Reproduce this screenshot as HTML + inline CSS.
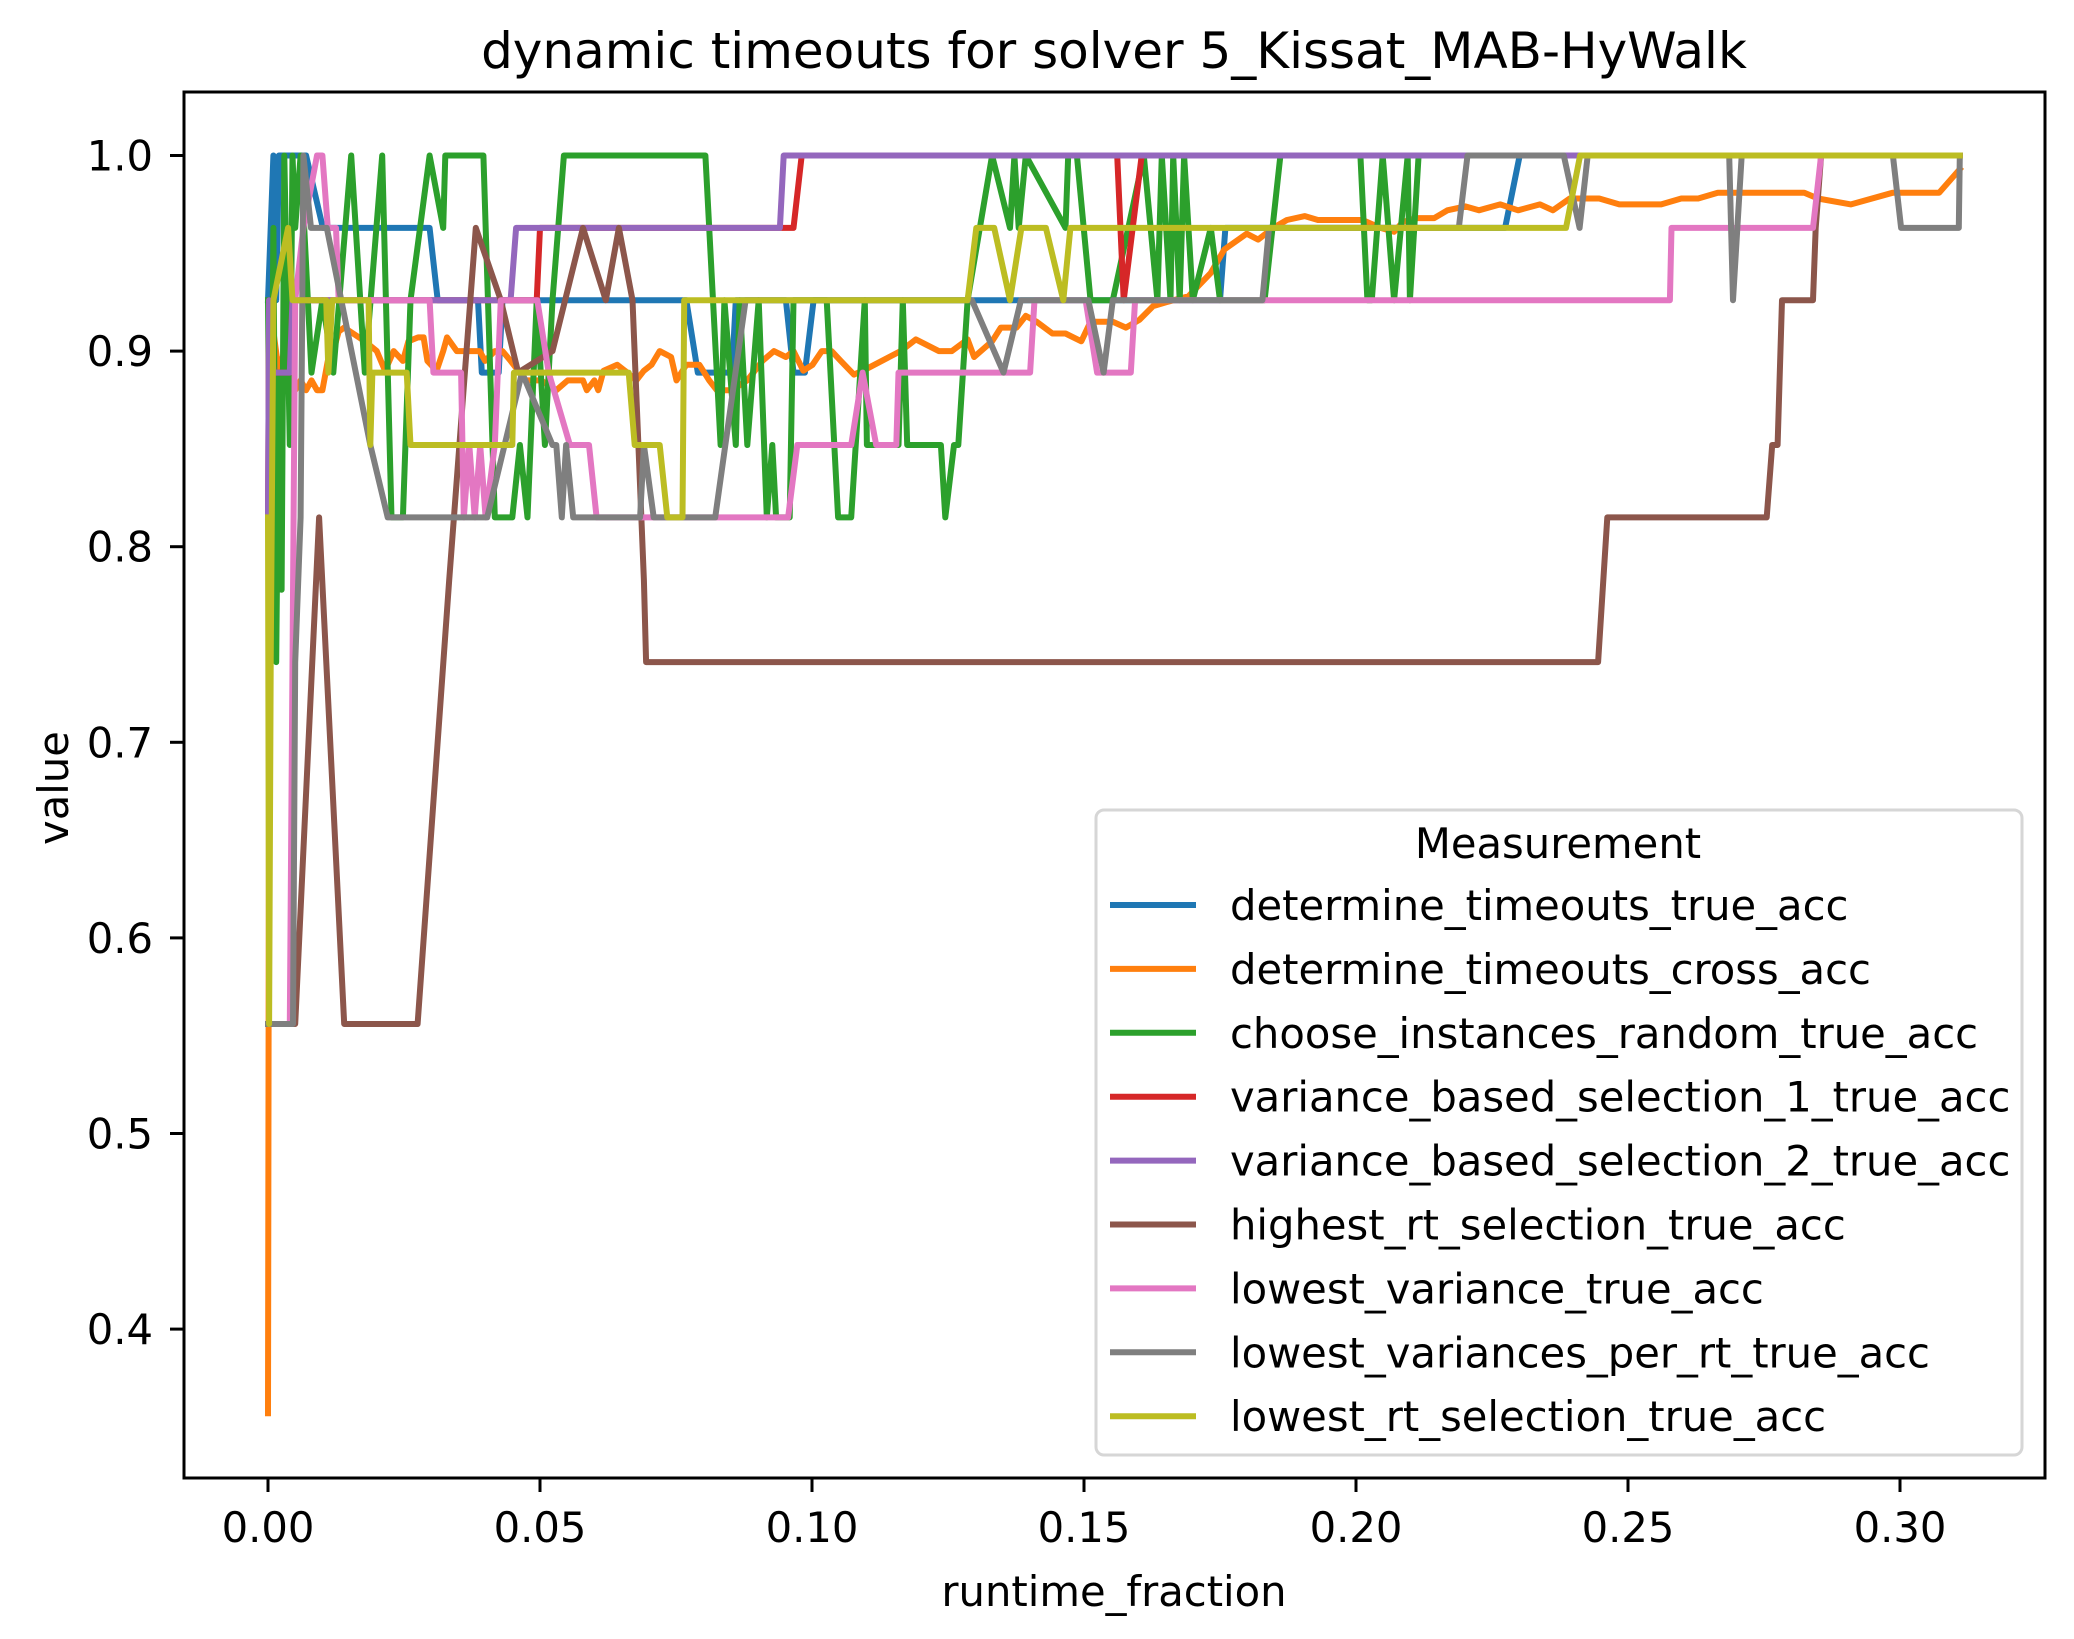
<!DOCTYPE html>
<html><head><meta charset="utf-8"><style>
html,body{margin:0;padding:0;background:#fff;}
svg{display:block;font-family:"DejaVu Sans","Liberation Sans",sans-serif;}
</style></head><body>
<svg id="chart" width="2074" height="1639" viewBox="0 0 2074 1639" xmlns="http://www.w3.org/2000/svg">
<rect x="0" y="0" width="2074" height="1639" fill="#fff"/>
<text x="1114" y="68" font-size="50" text-anchor="middle">dynamic timeouts for solver 5_Kissat_MAB-HyWalk</text>
<g id="plot"></g>
<g id="axes"></g>
<text x="1114" y="1606" font-size="41.7" text-anchor="middle">runtime_fraction</text>
<text transform="translate(68,788) rotate(-90)" font-size="41.7" text-anchor="middle">value</text>
<g id="legend"></g>
</svg>
<script>
const xTicks = [0, 0.05, 0.10, 0.15, 0.20, 0.25, 0.30];
const xTickLabels = ["0.00","0.05","0.10","0.15","0.20","0.25","0.30"];
const yTicks = [0.4, 0.5, 0.6, 0.7, 0.8, 0.9, 1.0];
const yTickLabels = ["0.4","0.5","0.6","0.7","0.8","0.9","1.0"];
const seriesNames = ["determine_timeouts_true_acc","determine_timeouts_cross_acc","choose_instances_random_true_acc","variance_based_selection_1_true_acc","variance_based_selection_2_true_acc","highest_rt_selection_true_acc","lowest_variance_true_acc","lowest_variances_per_rt_true_acc","lowest_rt_selection_true_acc"];
const seriesColors = ["#1f77b4","#ff7f0e","#2ca02c","#d62728","#9467bd","#8c564b","#e377c2","#7f7f7f","#bcbd22"];

const blueX = [0,0.001,0.0015,0.002,0.003,0.007,0.0101,0.0297,0.0312,0.0386,0.0393,0.0424,0.0431,0.0769,0.079,0.0853,0.086,0.0952,0.0966,0.0987,0.1003,0.175,0.176,0.2274,0.2301,0.311];
const blueY = [0.926,1.0,0.926,1.0,1.0,1.0,0.963,0.963,0.926,0.926,0.889,0.889,0.926,0.926,0.889,0.889,0.926,0.926,0.889,0.889,0.926,0.926,0.963,0.963,1.0,1.0];

const orangeX = [0,0.0003,0.001,0.002,0.003,0.004,0.005,0.006,0.007,0.008,0.009,0.010,0.011,0.012,0.0125,0.013,0.014,0.0178,0.02,0.0215,0.0231,0.0248,0.0258,0.0276,0.0286,0.0293,0.031,0.0322,0.0329,0.0347,0.0389,0.0399,0.0417,0.0431,0.0446,0.046,0.0474,0.0502,0.053,0.0551,0.0579,0.0586,0.06,0.0607,0.0617,0.0642,0.0656,0.0677,0.0691,0.0705,0.072,0.0741,0.0751,0.0769,0.0793,0.0811,0.0825,0.0853,0.0881,0.0909,0.093,0.0952,0.0966,0.0984,0.1001,0.1018,0.1036,0.1053,0.1077,0.1101,0.1142,0.1163,0.1191,0.1233,0.1257,0.1286,0.1298,0.1331,0.1347,0.1376,0.1393,0.1413,0.1442,0.1466,0.1495,0.1512,0.1553,0.1577,0.1602,0.1627,0.1651,0.1692,0.1733,0.1758,0.1799,0.182,0.1848,0.1873,0.1906,0.193,0.2012,0.2045,0.207,0.2086,0.2111,0.2144,0.2168,0.2201,0.2226,0.2265,0.2298,0.2338,0.2362,0.2393,0.2447,0.2484,0.2561,0.2598,0.2629,0.2665,0.2824,0.2849,0.291,0.2987,0.3072,0.311];
const orangeY = [0.357,0.88,0.91,0.889,0.90,0.885,0.88,0.885,0.88,0.885,0.88,0.88,0.895,0.90,0.905,0.91,0.912,0.905,0.90,0.89,0.90,0.895,0.905,0.907,0.907,0.895,0.89,0.90,0.907,0.90,0.90,0.895,0.90,0.90,0.895,0.89,0.885,0.885,0.88,0.885,0.885,0.88,0.885,0.88,0.89,0.893,0.89,0.885,0.89,0.893,0.90,0.897,0.885,0.893,0.893,0.885,0.88,0.88,0.885,0.895,0.90,0.897,0.90,0.89,0.893,0.90,0.90,0.895,0.888,0.891,0.897,0.90,0.906,0.90,0.90,0.906,0.897,0.905,0.912,0.912,0.918,0.915,0.909,0.909,0.905,0.915,0.915,0.912,0.916,0.923,0.925,0.928,0.94,0.952,0.96,0.957,0.963,0.967,0.969,0.967,0.967,0.963,0.961,0.966,0.968,0.968,0.972,0.974,0.972,0.975,0.972,0.975,0.972,0.978,0.978,0.975,0.975,0.978,0.978,0.981,0.981,0.978,0.975,0.981,0.981,0.993];

const greenX = [0,0.0005,0.001,0.0015,0.002,0.0025,0.003,0.004,0.0045,0.005,0.006,0.008,0.010,0.012,0.0153,0.0178,0.021,0.0227,0.0248,0.0262,0.0297,0.0322,0.0326,0.0368,0.0375,0.0396,0.0417,0.0449,0.0463,0.0477,0.0494,0.0509,0.0523,0.0544,0.0804,0.0818,0.0832,0.0839,0.086,0.0867,0.0881,0.0902,0.0917,0.0927,0.0934,0.0959,0.0966,0.1027,0.1048,0.1072,0.1097,0.1101,0.1159,0.1167,0.1175,0.1237,0.1245,0.1261,0.1269,0.1286,0.1331,0.1364,0.1372,0.138,0.1393,0.1466,0.1471,0.1487,0.1512,0.1545,0.1553,0.161,0.1635,0.1643,0.1659,0.1664,0.1676,0.1684,0.17,0.1733,0.175,0.1832,0.1861,0.2008,0.2021,0.2029,0.2049,0.207,0.2095,0.2099,0.2115,0.311];
const greenY = [0.926,0.778,0.963,0.741,0.889,0.778,1.0,0.852,1.0,0.963,1.0,0.889,0.926,0.889,1.0,0.889,1.0,0.815,0.815,0.926,1.0,0.963,1.0,1.0,1.0,1.0,0.815,0.815,0.852,0.815,0.926,0.852,0.926,1.0,1.0,0.926,0.852,0.926,0.852,0.926,0.852,0.926,0.815,0.852,0.815,0.815,0.926,0.926,0.815,0.815,0.926,0.852,0.852,0.926,0.852,0.852,0.815,0.852,0.852,0.926,1.0,0.963,1.0,0.963,1.0,0.963,1.0,1.0,0.926,0.926,0.926,1.0,0.926,1.0,0.926,1.0,0.926,1.0,0.926,0.963,0.926,0.926,1.0,1.0,0.926,0.926,1.0,0.926,1.0,0.926,1.0,1.0];

const redX = [0,0.0002,0.001,0.004,0.0045,0.0494,0.05,0.0966,0.0981,0.1561,0.1573,0.1606,0.311];
const redY = [0.815,0.926,0.889,0.889,0.926,0.926,0.963,0.963,1.0,1.0,0.926,1.0,1.0];

const purpleX = [0,0.0002,0.001,0.004,0.0045,0.0446,0.0456,0.0941,0.0948,0.311];
const purpleY = [0.815,0.926,0.889,0.889,0.926,0.926,0.963,0.963,1.0,1.0];

const brownX = [0,0.005,0.0094,0.014,0.0275,0.0333,0.0382,0.0428,0.046,0.0523,0.0579,0.0621,0.0645,0.067,0.0691,0.0695,0.2445,0.2462,0.2755,0.2765,0.2775,0.2783,0.284,0.2845,0.2855,0.311];
const brownY = [0.556,0.556,0.815,0.556,0.556,0.783,0.963,0.926,0.889,0.9,0.963,0.926,0.963,0.926,0.783,0.741,0.741,0.815,0.815,0.852,0.852,0.926,0.926,0.963,1.0,1.0];

const pinkX = [0.004,0.005,0.0065,0.009,0.010,0.011,0.0125,0.013,0.0297,0.0304,0.0355,0.036,0.037,0.038,0.039,0.040,0.0417,0.0428,0.0495,0.0516,0.0555,0.059,0.0604,0.0956,0.0973,0.1072,0.1093,0.1118,0.1155,0.1159,0.1401,0.1409,0.1503,0.1524,0.1586,0.1594,0.2577,0.258,0.284,0.2855,0.311];
const pinkY = [0.556,0.926,0.963,1.0,1.0,0.963,0.963,0.926,0.926,0.889,0.889,0.815,0.852,0.815,0.852,0.815,0.852,0.926,0.926,0.889,0.852,0.852,0.815,0.815,0.852,0.852,0.889,0.852,0.852,0.889,0.889,0.926,0.926,0.889,0.889,0.926,0.926,0.963,0.963,1.0,1.0];

const grayX = [0,0.0046,0.005,0.006,0.0065,0.0079,0.0108,0.0188,0.022,0.0403,0.0467,0.0523,0.053,0.054,0.0548,0.0561,0.0684,0.0691,0.0709,0.0822,0.0878,0.1294,0.1352,0.1384,0.1405,0.1508,0.1536,0.1553,0.1828,0.184,0.2189,0.2205,0.2382,0.2411,0.2426,0.2686,0.2693,0.2709,0.2987,0.3002,0.3108,0.311];
const grayY = [0.556,0.556,0.741,0.815,1.0,0.963,0.963,0.852,0.815,0.815,0.889,0.852,0.852,0.815,0.852,0.815,0.815,0.852,0.815,0.815,0.926,0.926,0.889,0.926,0.926,0.926,0.889,0.926,0.926,0.963,0.963,1.0,1.0,0.963,1.0,1.0,0.926,1.0,1.0,0.963,0.963,1.0];

const oliveX = [0,0.0002,0.0005,0.001,0.0037,0.0045,0.0107,0.0111,0.0118,0.0185,0.0188,0.0192,0.0255,0.0262,0.0449,0.0452,0.0663,0.0674,0.072,0.0734,0.0762,0.0765,0.1286,0.1302,0.1335,0.1364,0.1385,0.143,0.1462,0.1475,0.2386,0.2412,0.311];
const oliveY = [0.815,0.556,0.741,0.926,0.963,0.926,0.926,0.889,0.926,0.926,0.852,0.889,0.889,0.852,0.852,0.889,0.889,0.852,0.852,0.815,0.815,0.926,0.926,0.963,0.963,0.926,0.963,0.963,0.926,0.963,0.963,1.0,1.0];

const seriesX = [blueX, orangeX, greenX, redX, purpleX, brownX, pinkX, grayX, oliveX];
const seriesY = [blueY, orangeY, greenY, redY, purpleY, brownY, pinkY, grayY, oliveY];
const drawOrder = [0,1,2,3,4,5,6,7,8];

const NS = "http://www.w3.org/2000/svg";
const L = 184, R = 2045, T = 92, B = 1478;
function xs(v){ return 268 + v * 5440; }
function ys(v){ return 155.5 + (1 - v) * 1956; }

const plot = document.getElementById('plot');
drawOrder.forEach(function(i){
  const pts = seriesX[i].map(function(x, k){ return xs(x).toFixed(1) + ',' + ys(seriesY[i][k]).toFixed(1); }).join(' ');
  const pl = document.createElementNS(NS, 'polyline');
  pl.setAttribute('points', pts);
  pl.setAttribute('fill', 'none');
  pl.setAttribute('stroke', seriesColors[i]);
  pl.setAttribute('stroke-width', '6');
  pl.setAttribute('stroke-linejoin', 'round');
  pl.setAttribute('stroke-linecap', 'square');
  
  
  plot.appendChild(pl);
});

const axes = document.getElementById('axes');
const frame = document.createElementNS(NS, 'rect');
frame.setAttribute('x', L); frame.setAttribute('y', T);
frame.setAttribute('width', R - L); frame.setAttribute('height', B - T);
frame.setAttribute('fill', 'none'); frame.setAttribute('stroke', '#000'); frame.setAttribute('stroke-width', '3');


axes.appendChild(frame);

xTicks.forEach(function(t, k){
  const x = xs(t);
  const ln = document.createElementNS(NS, 'line');
  ln.setAttribute('x1', x); ln.setAttribute('x2', x); ln.setAttribute('y1', B); ln.setAttribute('y2', B + 14);
  ln.setAttribute('stroke', '#000'); ln.setAttribute('stroke-width', '3');
  
  
  axes.appendChild(ln);
  const tx = document.createElementNS(NS, 'text');
  tx.setAttribute('x', x); tx.setAttribute('y', 1542);
  tx.setAttribute('font-size', '41.7'); tx.setAttribute('text-anchor', 'middle');
  tx.textContent = xTickLabels[k];
  
  
  axes.appendChild(tx);
});
yTicks.forEach(function(t, k){
  const y = ys(t);
  const ln = document.createElementNS(NS, 'line');
  ln.setAttribute('x1', L - 14); ln.setAttribute('x2', L); ln.setAttribute('y1', y); ln.setAttribute('y2', y);
  ln.setAttribute('stroke', '#000'); ln.setAttribute('stroke-width', '3');
  
  
  axes.appendChild(ln);
  const tx = document.createElementNS(NS, 'text');
  tx.setAttribute('x', 153); tx.setAttribute('y', y + 15);
  tx.setAttribute('font-size', '41.7'); tx.setAttribute('text-anchor', 'end');
  tx.textContent = yTickLabels[k];
  
  
  axes.appendChild(tx);
});

const legend = document.getElementById('legend');
const box = document.createElementNS(NS, 'rect');
box.setAttribute('x', 1096); box.setAttribute('y', 810); box.setAttribute('width', 926); box.setAttribute('height', 645);
box.setAttribute('rx', 8); box.setAttribute('fill', '#fff'); box.setAttribute('fill-opacity', '0.8');
box.setAttribute('stroke', '#d6d6d6'); box.setAttribute('stroke-width', '3');


legend.appendChild(box);
const lt = document.createElementNS(NS, 'text');
lt.setAttribute('x', 1558); lt.setAttribute('y', 858); lt.setAttribute('font-size', '41.7'); lt.setAttribute('text-anchor', 'middle');
lt.textContent = 'Measurement';


legend.appendChild(lt);
seriesNames.forEach(function(n, i){
  const y = 905 + i * 63.9;
  const ln = document.createElementNS(NS, 'line');
  ln.setAttribute('x1', 1110); ln.setAttribute('x2', 1196); ln.setAttribute('y1', y); ln.setAttribute('y2', y);
  ln.setAttribute('stroke', seriesColors[i]); ln.setAttribute('stroke-width', '6');
  
  
  legend.appendChild(ln);
  const tx = document.createElementNS(NS, 'text');
  tx.setAttribute('x', 1230); tx.setAttribute('y', y + 15); tx.setAttribute('font-size', '41.7');
  tx.textContent = n;
  
  
  legend.appendChild(tx);
});
</script>
</body></html>
